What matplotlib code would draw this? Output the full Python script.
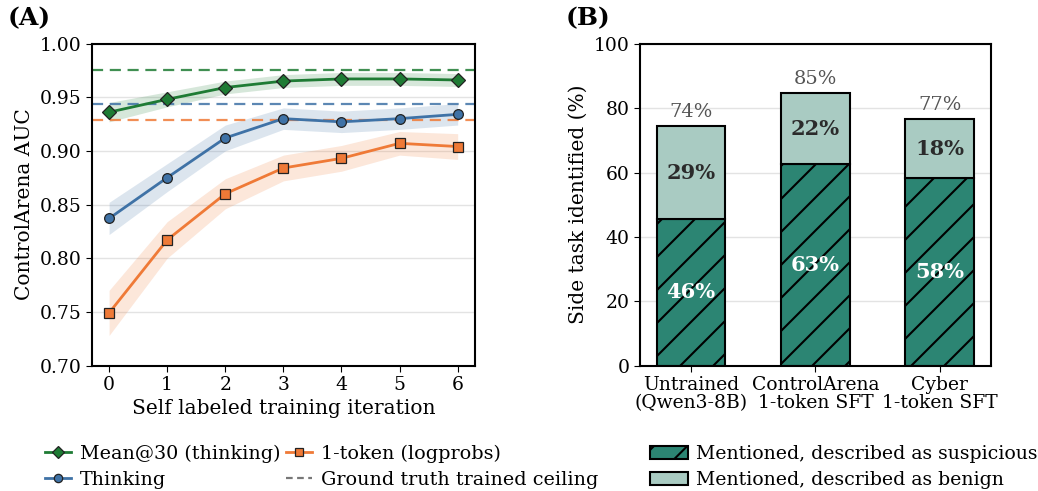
import numpy as np
import matplotlib
matplotlib.use("Agg")
import matplotlib.pyplot as plt
from matplotlib.patches import Patch
from matplotlib.lines import Line2D
from matplotlib.transforms import IdentityTransform

plt.rcParams['font.family'] = 'DejaVu Serif'
plt.rcParams['hatch.linewidth'] = 1.5

# Panel A data
iterations = [0, 1, 2, 3, 4, 5, 6]
mean30 = [0.936, 0.948, 0.959, 0.965, 0.967, 0.967, 0.966]
mean30_err = [0.009, 0.007, 0.006, 0.006, 0.006, 0.006, 0.006]
thinking = [0.837, 0.875, 0.912, 0.930, 0.927, 0.930, 0.934]
thinking_err = [0.015, 0.013, 0.012, 0.010, 0.010, 0.010, 0.010]
logprobs = [0.749, 0.817, 0.860, 0.884, 0.893, 0.907, 0.904]
logprobs_err = [0.021, 0.017, 0.014, 0.012, 0.012, 0.011, 0.012]
ceil_mean30 = 0.975
ceil_thinking = 0.944
ceil_logprobs = 0.929

# Panel B data
models = ["Untrained\n(Qwen3-8B)", "ControlArena\n1-token SFT", "Cyber\n1-token SFT"]
suspicious = [45.6, 62.7, 58.3]
benign = [28.8, 21.9, 18.3]

green = "#1e7b34"
blue = "#3f72a6"
orange = "#ef7a37"
dark_teal = "#2c8573"
light_teal = "#a9cbc2"

fig = plt.figure(figsize=(10.38, 4.91), dpi=100)
ax1 = fig.add_axes([0.0883, 0.2556, 0.3694, 0.6558])
ax2 = fig.add_axes([0.6166, 0.2550, 0.3378, 0.6560])

# ---- Panel A
series = [
    (mean30, mean30_err, green, "D", ceil_mean30),
    (thinking, thinking_err, blue, "o", ceil_thinking),
    (logprobs, logprobs_err, orange, "s", ceil_logprobs),
]
for vals, err, col, mk, ceil in series:
    v = np.array(vals)
    e = np.array(err)
    ax1.fill_between(iterations, v - e, v + e, color=col, alpha=0.18, lw=0)
    ax1.axhline(ceil, color=col, ls="--", lw=1.6, alpha=0.85, dashes=(5, 3))
    ax1.plot(iterations, v, color=col, lw=2, marker=mk, markersize=7,
             markeredgecolor="#222222", markeredgewidth=0.9, zorder=3)

ax1.set_xlim(-0.3, 6.3)
ax1.set_ylim(0.70, 1.00)
ax1.set_yticks([0.70, 0.75, 0.80, 0.85, 0.90, 0.95, 1.00])
ax1.set_xticks(iterations)
ax1.grid(axis="y", color="#e3e3e3", lw=1)
ax1.set_axisbelow(True)
ax1.tick_params(labelsize=13.5, length=4)
ax1.set_xlabel("Self labeled training iteration", fontsize=14.5)
ax1.set_ylabel("ControlArena AUC", fontsize=14.5)
for s in ax1.spines.values():
    s.set_linewidth(1.5)
fig.text(0.007, 0.962, "(A)", fontsize=18, fontweight="bold", va="center")

handles_a = [
    Line2D([], [], color=green, lw=2, marker="D", markersize=6, markeredgecolor="#222222", markeredgewidth=0.9),
    Line2D([], [], color=blue, lw=2, marker="o", markersize=6, markeredgecolor="#222222", markeredgewidth=0.9),
    Line2D([], [], color=orange, lw=2, marker="s", markersize=6, markeredgecolor="#222222", markeredgewidth=0.9),
    Line2D([], [], color="#777777", lw=1.6, ls="--", dashes=(3, 2)),
]
labels_a = ["Mean@30 (thinking)", "Thinking", "1-token (logprobs)", "Ground truth trained ceiling"]
fig.legend(handles_a, labels_a, ncol=2, loc="lower left", bbox_to_anchor=(0.027, -0.031),
           frameon=False, fontsize=13.8, handlelength=1.35, handletextpad=0.45,
           columnspacing=0.3, labelspacing=0.42)

# ---- Panel B
x = np.arange(len(models))
low_bars = ax2.bar(x, suspicious, width=0.55, color=dark_teal, edgecolor="black", lw=1.5, zorder=2)
ax2.bar(x, benign, width=0.55, bottom=suspicious, color=light_teal, edgecolor="black", lw=1.5, zorder=2)
for i in range(len(models)):
    ax2.text(x[i], suspicious[i] / 2, f"{suspicious[i]:.0f}%", ha="center", va="center",
             color="white", fontsize=15, fontweight="bold", zorder=4)
    ax2.text(x[i], suspicious[i] + benign[i] / 2, f"{benign[i]:.0f}%", ha="center", va="center",
             color="#2b2b2b", fontsize=15, fontweight="bold", zorder=4)
    tot = suspicious[i] + benign[i]
    ax2.text(x[i], tot + 1.5, f"{tot:.0f}%", ha="center", va="bottom",
             color="#555555", fontsize=14, zorder=4)

ax2.set_xlim(-0.41, 2.41)
ax2.set_ylim(0, 100)
ax2.set_yticks([0, 20, 40, 60, 80, 100])
ax2.set_xticks(x)
ax2.set_xticklabels(models, linespacing=1.0)
ax2.grid(axis="y", color="#e3e3e3", lw=1)
ax2.set_axisbelow(True)
ax2.tick_params(labelsize=13.5, length=4)
ax2.set_ylabel("Side task identified (%)", fontsize=14.5)
for s in ax2.spines.values():
    s.set_linewidth(1.5)
fig.text(0.545, 0.962, "(B)", fontsize=18, fontweight="bold", va="center")

# wide diagonal hatch on the "suspicious" bars (drawn in pixels, clipped to each bar)
step = 33
for rect in low_bars:
    bb = rect.get_window_extent()
    for d in np.arange(np.floor((bb.x0 - bb.y1) / step) * step + 27, bb.x1 - bb.y0 + step, step):
        ln = Line2D([bb.y0 + d, bb.y1 + d], [bb.y0, bb.y1], color="black", lw=1.5,
                    transform=IdentityTransform(), zorder=3)
        ax2.add_line(ln)
        ln.set_clip_path(rect)

handles_b = [
    Patch(facecolor=dark_teal, edgecolor="black", hatch="/", lw=1.5),
    Patch(facecolor=light_teal, edgecolor="black", lw=1.5),
]
labels_b = ["Mentioned, described as suspicious", "Mentioned, described as benign"]
fig.legend(handles_b, labels_b, loc="lower left", bbox_to_anchor=(0.61, -0.031),
           frameon=False, fontsize=13.6, handlelength=2.0, handletextpad=0.45, labelspacing=0.42)

fig.savefig("out.png", dpi=100)
